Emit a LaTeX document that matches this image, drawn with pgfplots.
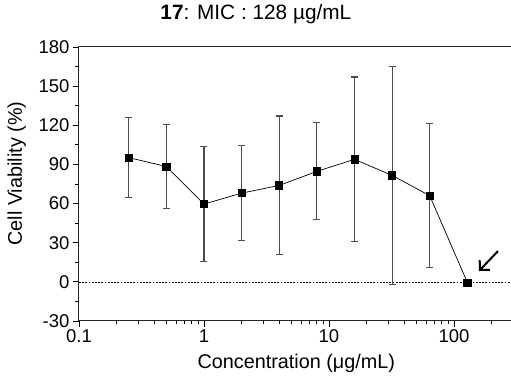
\documentclass[border=0pt]{standalone}
\usepackage{pgfplots}
\pgfplotsset{compat=1.18}
\usepackage{fontspec}
\setmainfont{Liberation Sans}
\usetikzlibrary{arrows.meta}
\newcommand{\fst}{\fontsize{18.5}{21}\selectfont}
\newcommand{\fsl}{\fontsize{19.8}{23}\selectfont}
\newcommand{\fsh}{\fontsize{20.8}{24}\selectfont}
\begin{document}
\begin{tikzpicture}
\useasboundingbox (-79pt,-58pt) rectangle (432pt,321pt);
\begin{axis}[
  scale only axis,
  width=434.6pt, height=274pt,
  xmode=log, log basis x=10,
  xmin=0.1, xmax=300,
  ymin=-30, ymax=180,
  xtick={0.1,1,10,100},
  xticklabels={0.1,1,10,100},
  minor xtick={0.2,0.3,0.4,0.5,0.6,0.7,0.8,0.9,2,3,4,5,6,7,8,9,20,30,40,50,60,70,80,90,200,300},
  ytick={-30,0,30,60,90,120,150,180},
  minor ytick={-15,15,45,75,105,135,165},
  tick align=outside,
  xtick pos=bottom, ytick pos=left,
  major tick length=6pt, minor tick length=3.5pt,
  every tick/.style={black, line width=0.9pt},
  axis line style={line width=1pt, black!85},
  /pgf/number format/assume math mode=true,
  tick label style={font=\fst},
  xticklabel style={yshift=1pt},
  label style={font=\fsl},
  title style={font=\fsh, at={(axis description cs:0.407,1.080)}, anchor=base},
  title={\textbf{17}: MIC : 128 µg/mL},
  xlabel={Concentration (μg/mL)},
  ylabel={Cell Viability (\%)},
  xlabel style={at={(axis description cs:0.5,-0.175)}, anchor=base},
  ylabel style={at={(axis description cs:-0.143,0.538)}, anchor=center},
  clip=false,
]
\addplot[black, line width=0.6pt, dash pattern=on 1.8pt off 1.4pt, forget plot] coordinates {(0.1,0) (300,0)};
\addplot[black, line width=0.7pt, mark=square*, mark size=3.6pt, mark options={solid, fill=black},
  error bars/.cd, y dir=both, y explicit,
  error bar style={black!70, line width=1.1pt},
  error mark options={rotate=90, black!70, mark size=3.5pt, line width=1.1pt}]
  coordinates {
  (0.25,95.2) +- (0,30.5)
  (0.5,88.4) +- (0,32.3)
  (1,59.6) +- (0,44.3)
  (2,68.0) +- (0,36.3)
  (4,73.9) +- (0,53.2)
  (8,84.7) +- (0,37.2)
  (16,93.9) +- (0,63.1)
  (32,81.6) +- (0,83.3)
  (64,66.0) +- (0,55.2)
  (128,-0.5) +- (0,2.0)
  };
\draw[line width=2pt, -{Straight Barb[length=7pt, width=14pt]}] (axis cs:225,23.6) -- (axis cs:158.5,8.3);
\end{axis}
\end{tikzpicture}
\end{document}
